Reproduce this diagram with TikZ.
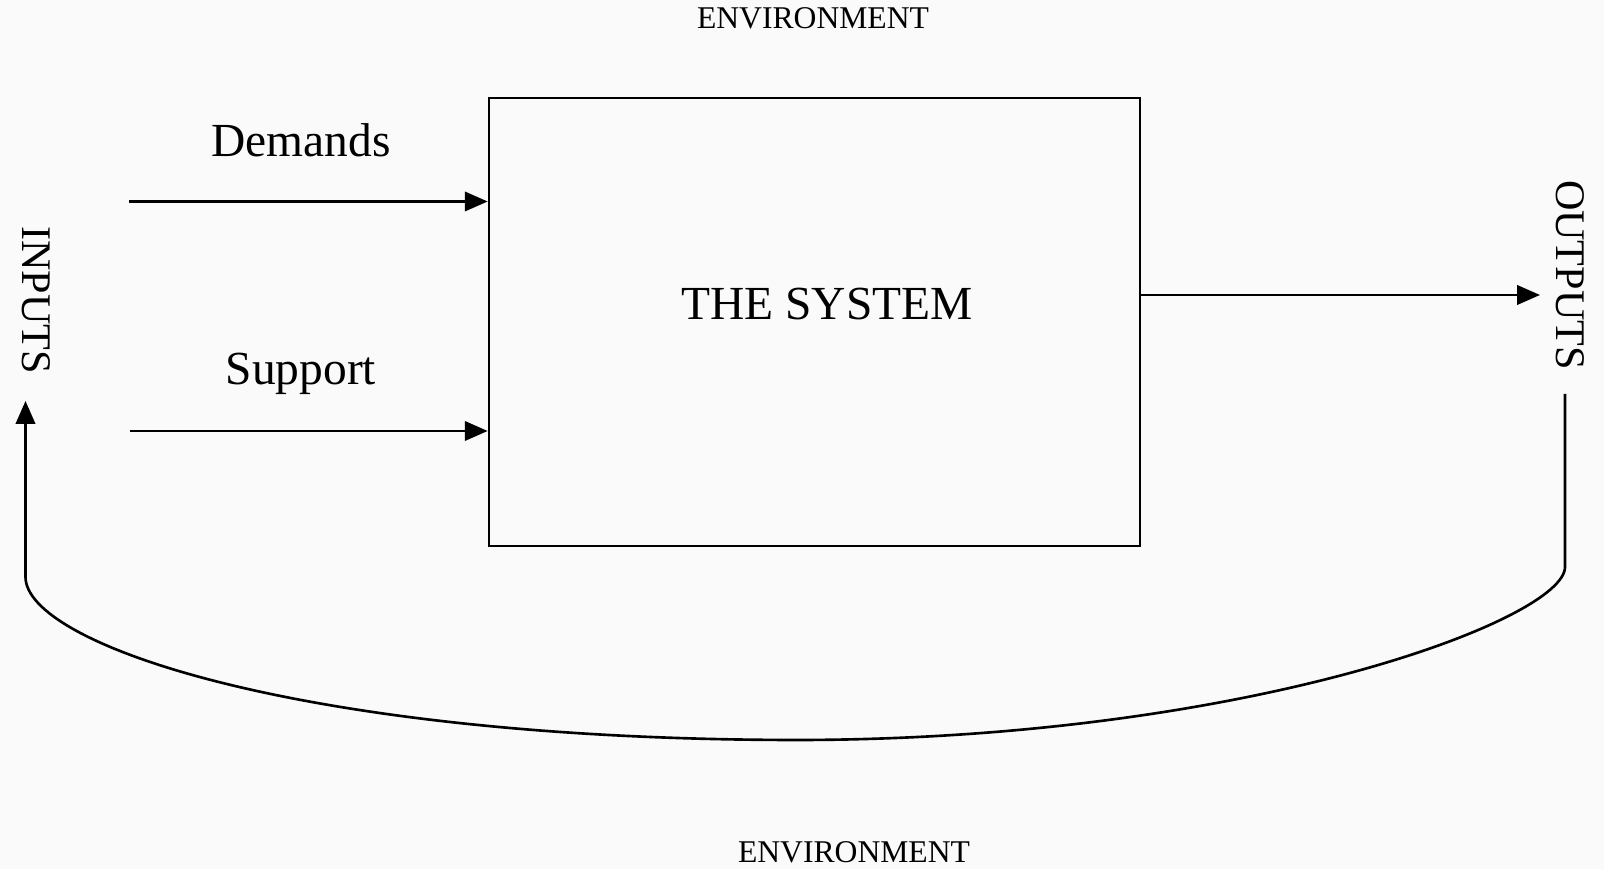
\documentclass[tikz,border=0pt]{standalone}
\usepackage{fontspec}
\setmainfont{Liberation Serif}
\usetikzlibrary{arrows.meta}
\tikzset{
    arr/.style={line width=1.5pt, -{Triangle[length=13pt,width=11pt]}},
    big/.style={font=\fontsize{27}{30}\selectfont},
    side/.style={font=\fontsize{24}{28}\selectfont, rotate=-90},
    env/.style={font=\fontsize{18}{20}\selectfont}
}
\begin{document}
\begin{tikzpicture}
    \useasboundingbox[fill={rgb,255:red,250;green,250;blue,250}] (0,0) rectangle (32.08,17.38);

    % Environment labels
    \node[env] (envtop) at (16.26, 17.02) {ENVIRONMENT};
    \node[env] (envbot) at (17.08, 0.34) {ENVIRONMENT};

    % The system box
    \node[draw, line width=1.5pt, minimum width=13.02cm, minimum height=8.96cm] (system) at (16.29, 10.94) {};
    \node[big] (systitle) at (16.54, 11.30) {THE SYSTEM};

    % Input labels
    \node[big] (demands) at (6.02, 14.58) {Demands};
    \node[big] (support) at (6.02, 9.90) {Support};
    \node[side] (inputs) at (0.72, 11.38) {INPUTS};
    \node[side] (outputs) at (31.40, 11.88) {OUTPUTS};

    % Arrow ends
    \coordinate (dstart) at (2.58, 13.35);
    \coordinate (sstart) at (2.60, 8.76);
    \coordinate (oend) at (30.80, 11.48);
    \coordinate (fbtop) at (31.30, 9.50);
    \coordinate (fbend) at (0.51, 9.36);

    % Arrows into and out of the system
    \draw[arr] (dstart) -- (dstart -| system.west);
    \draw[arr] (sstart) -- (sstart -| system.west);
    \draw[arr] (oend -| system.east) -- (oend);

    % Feedback loop
    \draw[arr] (fbtop) -- (31.30, 6.04)
        .. controls (31.30, 5.0) and (25.0, 2.6) .. (16.0, 2.58)
        .. controls (6.0, 2.58) and (0.51, 4.5) .. (0.51, 5.84)
        -- (fbend);

\end{tikzpicture}
\end{document}
